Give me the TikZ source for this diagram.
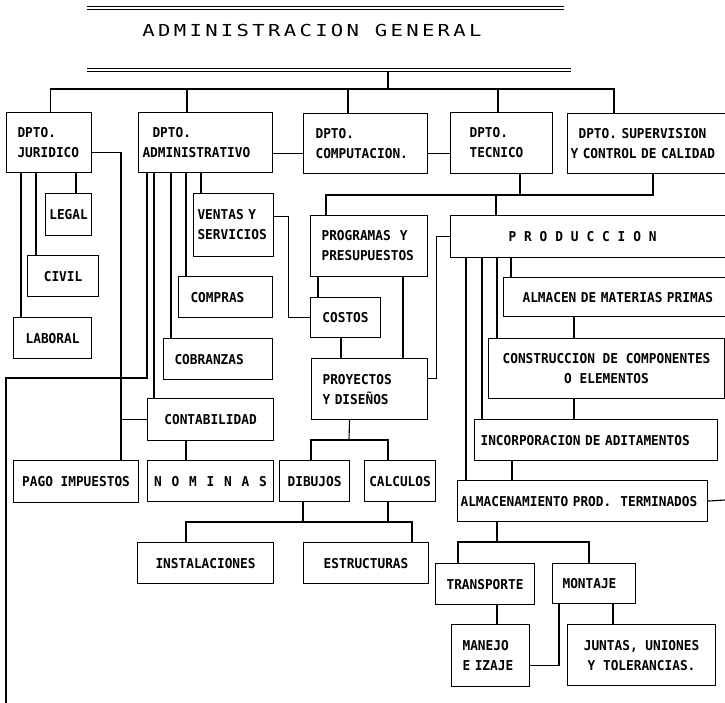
\documentclass[tikz,border=0pt]{standalone}
\usepackage{fontspec}
\newfontfamily\dmfam[FakeStretch=0.94]{DejaVu Sans Mono}
\newfontfamily\ttlfam[FakeStretch=1.25,LetterSpace=20]{DejaVu Sans Mono}
\newcommand\bxfont{\dmfam\bfseries\fontsize{13.6}{20}\selectfont\spaceskip=7.7pt\relax\xspaceskip=7.7pt\relax}
\newcommand\ttlfont{\ttlfam\fontsize{16.5}{18}\selectfont}
\begin{document}
\begin{tikzpicture}[x=1pt, y=-1pt, line width=1.1pt,
  bx/.style={draw, line width=1.1pt, inner ysep=0pt, inner xsep=2pt, align=center, font=\bxfont, anchor=north west},
  lb/.style={align=left},
  dbl/.style={double, double distance=2.8pt, line width=1pt}]
\useasboundingbox (0,0) rectangle (725,703);
\clip (0,0) rectangle (725,703);
% title
\node[font=\ttlfont] (ag) at (312,30) {ADMINISTRACION GENERAL};
\draw[dbl] (87,8) -- (564,8);
\draw[dbl] (87,70) -- (571,70);
\coordinate (hub) at (388,72);
\coordinate (bus) at (388,89);
\draw (hub) -- (bus);
% departments
\node[bx, lb, minimum width=85pt, minimum height=60pt, inner xsep=11pt, text width=63pt] (jur) at (6,112) {DPTO.\\JURIDICO};
\node[bx, lb, minimum width=134pt, minimum height=60pt, inner xsep=4pt, text width=126pt] (adm) at (138,112) {\hspace{10pt}DPTO.\\ADMINISTRATIVO};
\node[bx, lb, minimum width=124pt, minimum height=60pt, inner xsep=12pt, text width=100pt] (comp) at (303,113) {DPTO.\\COMPUTACION.};
\node[bx, lb, minimum width=102pt, minimum height=61pt, inner xsep=19pt, text width=64pt] (tec) at (450,112) {DPTO.\\TECNICO};
\node[bx, lb, minimum width=170pt, minimum height=60pt, inner xsep=3pt, text width=164pt] (sup) at (567,113) {\hspace{8pt}DPTO. SUPERVISION\\Y CONTROL DE CALIDAD};
% juridico children
\node[bx, minimum width=46pt, minimum height=42pt] (legal) at (45,193) {LEGAL};
\node[bx, minimum width=71pt, minimum height=41pt] (civil) at (27,255) {CIVIL};
\node[bx, minimum width=78pt, minimum height=41pt] (lab) at (13,317) {LABORAL};
\node[bx, minimum width=125pt, minimum height=42pt] (pago) at (13,460) {PAGO IMPUESTOS};
% administrativo children
\node[bx, lb, minimum width=80pt, minimum height=63pt, inner xsep=4pt, text width=72pt] (vent) at (193,193) {VENTAS Y\\SERVICIOS};
\node[bx, lb, minimum width=94pt, minimum height=41pt, inner xsep=12pt, text width=70pt] (compr) at (178,276) {COMPRAS};
\node[bx, lb, minimum width=109pt, minimum height=41pt, inner xsep=11pt, text width=87pt] (cob) at (163,338) {COBRANZAS};
\node[bx, minimum width=126pt, minimum height=42pt] (cont) at (147,398) {CONTABILIDAD};
\node[bx, minimum width=126pt, minimum height=41pt] (nom) at (147,460) {\spaceskip=9.8pt\relax N O M I N A S};
% computacion / tecnico middle
\node[bx, lb, minimum width=117pt, minimum height=61pt, inner xsep=11pt, text width=95pt] (prog) at (310,215) {PROGRAMAS~~Y\\PRESUPUESTOS};
\node[bx, minimum width=70pt, minimum height=40pt] (cost) at (310,297) {COSTOS};
\node[bx, lb, minimum width=116pt, minimum height=61pt, inner xsep=11pt, text width=94pt] (proy) at (311,358) {PROYECTOS\\Y DISEÑOS};
\node[bx, minimum width=70pt, minimum height=41pt] (dib) at (279,460) {DIBUJOS};
\node[bx, minimum width=71pt, minimum height=41pt] (calc) at (364,460) {CALCULOS};
\node[bx, minimum width=136pt, minimum height=41pt] (inst) at (137,542) {INSTALACIONES};
\node[bx, minimum width=125pt, minimum height=41pt] (estr) at (303,542) {ESTRUCTURAS};
% produccion
\node[bx, lb, minimum width=285pt, minimum height=42pt, inner xsep=58pt, text width=169pt] (prod) at (450,215) {\spaceskip=7.9pt\relax P R O D U C C I O N};
\node[bx, lb, minimum width=240pt, minimum height=39pt, inner xsep=19pt, text width=202pt] (almp) at (503,277) {ALMACEN DE MATERIAS PRIMAS};
\node[bx, minimum width=236pt, minimum height=60pt] (cons) at (488,338) {CONSTRUCCION DE COMPONENTES\\O ELEMENTOS};
\node[bx, lb, minimum width=243pt, minimum height=41pt, inner xsep=6pt, text width=231pt] (inc) at (474,419) {INCORPORACION DE ADITAMENTOS};
\node[bx, lb, minimum width=250pt, minimum height=41pt, inner xsep=3pt, text width=244pt] (almt) at (457,480) {ALMACENAMIENTO PROD.~~TERMINADOS};
\node[bx, minimum width=99pt, minimum height=41pt] (trans) at (435,563) {TRANSPORTE};
\node[bx, lb, minimum width=83pt, minimum height=40pt, inner xsep=10pt, text width=63pt] (mont) at (552,563) {MONTAJE};
\node[bx, lb, minimum width=78pt, minimum height=62pt, inner xsep=11pt, text width=56pt] (man) at (451,624) {MANEJO\\E IZAJE};
\node[bx, minimum width=148pt, minimum height=61pt] (junt) at (567,624) {JUNTAS, UNIONES\\Y TOLERANCIAS.};
% free ends and junctions
\coordinate (turnL) at (6,378);
\coordinate (offL) at (6,703);
\coordinate (offR) at (725,500);
\coordinate (jn) at (496,195);
\coordinate (pd) at (349,440);
\coordinate (dj) at (303,522);
\coordinate (aj) at (497,542);
% top bus
\draw ([xshift=1.5pt]jur.north) |- (bus);
\draw ([xshift=49pt]adm.north west) |- (bus);
\draw ([xshift=45pt]comp.north west) |- (bus);
\draw ([xshift=48pt]tec.north west) |- (bus);
\draw ([xshift=47pt]sup.north west) |- (bus);
% juridico
\draw ([xshift=15pt]jur.south west) coordinate (j1) -- (j1 |- lab.north);
\draw ([xshift=30pt]jur.south west) coordinate (j2) -- (j2 |- civil.north);
\draw ([xshift=70pt]jur.south west) coordinate (j3) -- (j3 |- legal.north);
\draw ([yshift=-10pt]jur.east) -| ([xshift=108pt]pago.north west) coordinate (pj);
\draw (cont.west) -- (pj |- cont.west);
% administrativo
\draw ([xshift=63pt]adm.south west) coordinate (a1) -- (a1 |- vent.north);
\draw ([xshift=48pt]adm.south west) coordinate (a2) -- (a2 |- compr.north);
\draw ([xshift=33pt]adm.south west) coordinate (a3) -- (a3 |- cob.north);
\draw ([xshift=16pt]adm.south west) coordinate (a4) -- (a4 |- cont.north);
\draw ([xshift=9pt]adm.south west) |- (turnL) -- (offL);
\draw ([xshift=39pt]cont.south west) coordinate (c1) -- (c1 |- nom.north);
\draw ([yshift=8.5pt]vent.east) -- ++(14pt,0) |- (cost.west);
% departments side links
\draw ([yshift=-10pt]comp.west) coordinate (k1) -- (k1 -| adm.east);
\draw ([yshift=-10pt]comp.east) coordinate (k2) -- (k2 -| tec.west);
\draw ([xshift=70pt]tec.south west) |- (jn);
\draw ([xshift=86pt]sup.south west) |- (jn);
\draw ([xshift=16pt]prog.north west) |- (jn);
\draw ([xshift=46pt]prod.north west) -- (jn);
% programas
\draw ([xshift=8pt]prog.south west) coordinate (p1) -- (p1 |- cost.north);
\draw ([xshift=93pt]prog.south west) coordinate (p2) -- (p2 |- proy.north);
\draw ([xshift=31pt]cost.south west) coordinate (p3) -- (p3 |- proy.north);
\draw ([yshift=10.5pt]proy.east) -- ++(8pt,0) |- (prod.west);
\draw ([xshift=-20pt]proy.south) -- (pd);
\draw ([xshift=32pt]dib.north west) |- (pd);
\draw ([xshift=24pt]calc.north west) |- (pd);
\draw ([xshift=24pt]dib.south west) -- (dj);
\draw ([xshift=24pt]calc.south west) coordinate (c2) -- (c2 |- dj);
\draw ([xshift=49pt]inst.north west) |- (dj);
\draw ([xshift=109pt]estr.north west) |- (dj);
% produccion
\draw ([xshift=61pt]prod.south west) coordinate (r1) -- (r1 |- almp.north);
\draw ([xshift=47pt]prod.south west) coordinate (r2) -- (r2 |- cons.north);
\draw ([xshift=32pt]prod.south west) coordinate (r3) -- (r3 |- inc.north);
\draw ([xshift=16pt]prod.south west) coordinate (r4) -- (r4 |- almt.north);
\draw ([xshift=71pt]almp.south west) coordinate (r5) -- (r5 |- cons.north);
\draw ([xshift=86pt]cons.south west) coordinate (r6) -- (r6 |- inc.north);
\draw ([xshift=38pt]inc.south west) coordinate (r7) -- (r7 |- almt.north);
\draw (almt.east) -- (offR);
\draw ([xshift=40pt]almt.south west) -- (aj);
\draw ([xshift=23pt]trans.north west) |- (aj);
\draw ([xshift=37pt]mont.north west) |- (aj);
\draw ([xshift=62pt]trans.south west) coordinate (t1) -- (t1 |- man.north);
\draw ([yshift=-10pt]man.east) -| ([xshift=7pt]mont.south west);
\draw ([xshift=61pt]mont.south west) coordinate (t2) -- (t2 |- junt.north);
\end{tikzpicture}
\end{document}
